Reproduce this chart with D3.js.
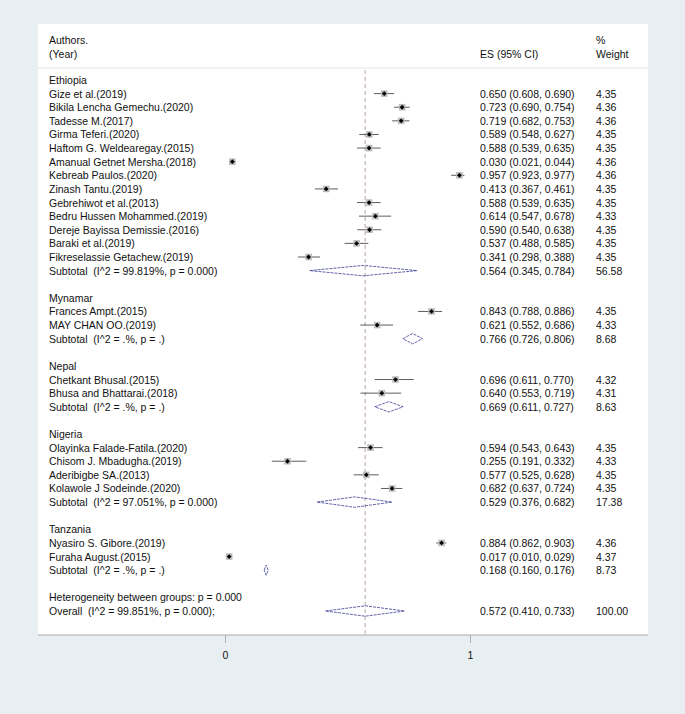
<!DOCTYPE html>
<html><head><meta charset="utf-8">
<script src="https://cdn.jsdelivr.net/npm/d3@7"></script>
<style>
body{margin:0;background:#e8eff2;}
text{font-family:"Liberation Sans",Arial,sans-serif;font-size:10.5px;fill:#111;white-space:pre;}
</style></head>
<body><svg id="c" width="685" height="714"></svg>
<script>
// ---- data ----
const groups = ["Ethiopia","Mynamar","Nepal","Nigeria","Tanzania"];
const studyGroup = [0,0,0,0,0,0,0,0,0,0,0,0,0,1,1,2,2,3,3,3,3,4,4];
const studyLabels = ["Gize et al.(2019)","Bikila Lencha Gemechu.(2020)","Tadesse M.(2017)","Girma Teferi.(2020)","Haftom G. Weldearegay.(2015)","Amanual Getnet Mersha.(2018)","Kebreab Paulos.(2020)","Zinash Tantu.(2019)","Gebrehiwot et al.(2013)","Bedru Hussen Mohammed.(2019)","Dereje Bayissa Demissie.(2016)","Baraki et al.(2019)","Fikreselassie Getachew.(2019)",
  "Frances Ampt.(2015)","MAY CHAN OO.(2019)",
  "Chetkant Bhusal.(2015)","Bhusa and Bhattarai.(2018)",
  "Olayinka Falade-Fatila.(2020)","Chisom J. Mbadugha.(2019)","Aderibigbe SA.(2013)","Kolawole J Sodeinde.(2020)",
  "Nyasiro S. Gibore.(2019)","Furaha August.(2015)"];
const studyES  = [0.650,0.723,0.719,0.589,0.588,0.030,0.957,0.413,0.588,0.614,0.590,0.537,0.341, 0.843,0.621, 0.696,0.640, 0.594,0.255,0.577,0.682, 0.884,0.017];
const studyLo  = [0.608,0.690,0.682,0.548,0.539,0.021,0.923,0.367,0.539,0.547,0.540,0.488,0.298, 0.788,0.552, 0.611,0.553, 0.543,0.191,0.525,0.637, 0.862,0.010];
const studyHi  = [0.690,0.754,0.753,0.627,0.635,0.044,0.977,0.461,0.635,0.678,0.638,0.585,0.388, 0.886,0.686, 0.770,0.719, 0.643,0.332,0.628,0.724, 0.903,0.029];
const studyW   = ["4.35","4.36","4.36","4.35","4.35","4.36","4.36","4.35","4.35","4.33","4.35","4.35","4.35", "4.35","4.33", "4.32","4.31", "4.35","4.33","4.35","4.35", "4.36","4.37"];
const subLabels = ["Subtotal  (I^2 = 99.819%, p = 0.000)","Subtotal  (I^2 = .%, p = .)","Subtotal  (I^2 = .%, p = .)","Subtotal  (I^2 = 97.051%, p = 0.000)","Subtotal  (I^2 = .%, p = .)"];
const subES = [0.564,0.766,0.669,0.529,0.168];
const subLo = [0.345,0.726,0.611,0.376,0.160];
const subHi = [0.784,0.806,0.727,0.682,0.176];
const subW  = ["56.58","8.68","8.63","17.38","8.73"];
const hetLabel = "Heterogeneity between groups: p = 0.000";
const overallLabel = "Overall  (I^2 = 99.851%, p = 0.000);";
const overall = {es:0.572, lo:0.410, hi:0.733, w:"100.00"};
const xTicks = [0,1];

// ---- build rows ----
const rows = [];
groups.forEach((g,gi)=>{
  rows.push({type:"group",label:g});
  studyLabels.forEach((s,i)=>{ if(studyGroup[i]===gi) rows.push({type:"study",label:s,es:studyES[i],lo:studyLo[i],hi:studyHi[i],w:studyW[i]}); });
  rows.push({type:"sub",label:subLabels[gi],es:subES[gi],lo:subLo[gi],hi:subHi[gi],w:subW[gi]});
  rows.push({type:"blank"});
});
rows.push({type:"het",label:hetLabel});
rows.push({type:"sub",label:overallLabel,es:overall.es,lo:overall.lo,hi:overall.hi,w:overall.w});

const svg = d3.select("#c");
const panel = {x0:38,x1:648,y0:24,y1:635};
const x = d3.scaleLinear().domain([0,1]).range([225,470]);
const y = d3.scaleLinear().domain([0,rows.length-1]).range([80,611]);
const f3 = d3.format(".3f");

svg.append("rect").attr("x",panel.x0).attr("y",panel.y0).attr("width",panel.x1-panel.x0).attr("height",panel.y1-panel.y0).attr("fill","#fff");
svg.append("line").attr("x1",panel.x0).attr("x2",panel.x1).attr("y1",68).attr("y2",68).attr("stroke","#e4e4e4").attr("stroke-width",1);

// header
const hdr = svg.append("g");
hdr.append("text").attr("x",49).attr("y",40).attr("dominant-baseline","central").text("Authors.");
hdr.append("text").attr("x",49).attr("y",54).attr("dominant-baseline","central").text("(Year)");
hdr.append("text").attr("x",480).attr("y",54).attr("dominant-baseline","central").text("ES (95% CI)");
hdr.append("text").attr("x",596).attr("y",40).attr("dominant-baseline","central").text("%");
hdr.append("text").attr("x",596).attr("y",54).attr("dominant-baseline","central").text("Weight");

// overall dashed line
svg.append("line").attr("x1",x(overall.es)).attr("x2",x(overall.es)).attr("y1",70).attr("y2",panel.y1)
  .attr("stroke","#a88a8a").attr("stroke-width",0.8).attr("stroke-dasharray","4,3");

// rows
const g = svg.append("g");
rows.forEach((r,i)=>{
  const yy = y(i);
  if(r.type==="blank") return;
  g.append("text").attr("x",49).attr("y",yy).attr("dominant-baseline","central").text(r.label);
  if(r.type==="study"){
    g.append("line").attr("x1",x(r.lo)).attr("x2",x(r.hi)).attr("y1",yy).attr("y2",yy).attr("stroke","#333").attr("stroke-width",0.8);
    g.append("rect").attr("x",x(r.es)-3.3).attr("y",yy-3.3).attr("width",6.6).attr("height",6.6).attr("fill","#bdbdbd");
    const cx = x(r.es), d = 2.4;
    g.append("path").attr("d",`M${cx-d},${yy}L${cx},${yy-d}L${cx+d},${yy}L${cx},${yy+d}Z`).attr("fill","#000");
  }
  if(r.type==="sub"){
    const h=5.2;
    g.append("path").attr("d",`M${x(r.lo)},${yy}L${x(r.es)},${yy-h}L${x(r.hi)},${yy}L${x(r.es)},${yy+h}Z`)
      .attr("fill","none").attr("stroke","#3c3c98").attr("stroke-width",0.8).attr("stroke-dasharray","3,1");
  }
  if(r.type==="study"||r.type==="sub"){
    g.append("text").attr("x",480).attr("y",yy).attr("dominant-baseline","central").text(`${f3(r.es)} (${f3(r.lo)}, ${f3(r.hi)})`);
    g.append("text").attr("x",596).attr("y",yy).attr("dominant-baseline","central").text(r.w);
  }
});

// axis
const ax = svg.append("g").attr("transform",`translate(0,${panel.y1})`);
ax.append("line").attr("x1",panel.x0).attr("x2",panel.x1).attr("stroke","#a8a8a8").attr("stroke-width",1);
const axis = d3.axisBottom(x).tickValues(xTicks).tickFormat(d3.format("d")).tickSize(8).tickPadding(9);
const axg = ax.append("g").call(axis);
axg.select(".domain").remove();
axg.selectAll(".tick line").attr("stroke","#b0b0b0");
axg.selectAll(".tick text").attr("font-family","Liberation Sans, Arial, sans-serif").attr("font-size","10.5px").attr("fill","#111");
</script></body></html>
